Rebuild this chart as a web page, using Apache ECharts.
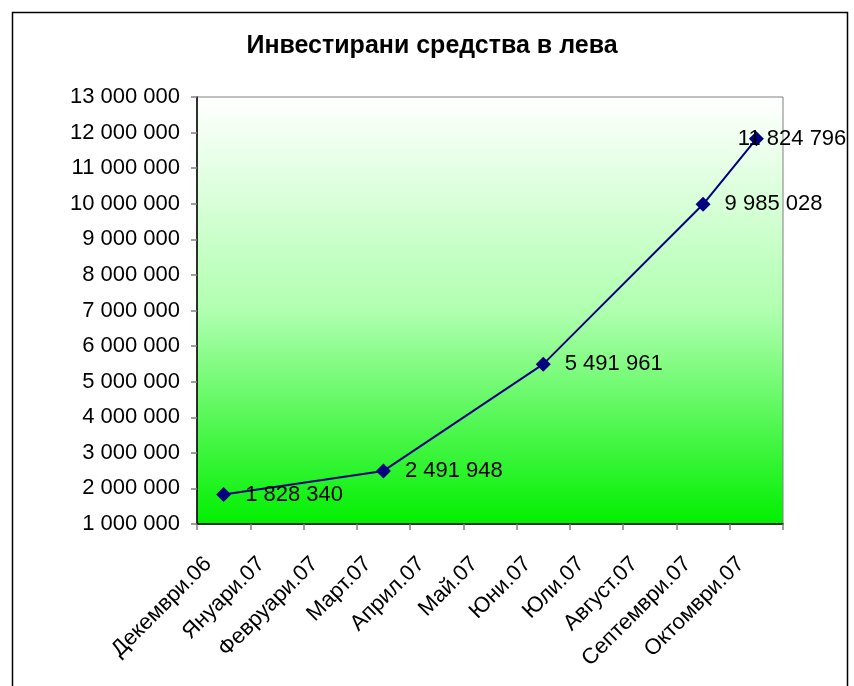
<!DOCTYPE html>
<html>
<head>
<meta charset="utf-8">
<script src="https://cdn.jsdelivr.net/npm/echarts@6/dist/echarts.min.js"></script>
<style>
html,body{margin:0;padding:0;background:#fff;}
#chart{width:854px;height:686px;}
</style>
</head>
<body>
<div id="chart"></div>
<script>
const titleText = 'Инвестирани средства в лева';
const categories = ['Декември.06','Януари.07','Февруари.07','Март.07','Април.07','Май.07','Юни.07','Юли.07','Август.07','Септември.07','Октомври.07'];
const values = [1828340, null, null, 2491948, null, null, 5491961, null, null, 9985028, 11824796];
const yMin = 1000000, yMax = 13000000, yStep = 1000000;

function fmt(v){
  return String(Math.round(v)).replace(/\B(?=(\d{3})+(?!\d))/g, ' ');
}

const chart = echarts.init(document.getElementById('chart'));
const lastIdx = values.length - 1;
const seriesData = values.map((v, i) => {
  if (v === null) return null;
  const d = { value: v };
  if (i === lastIdx) d.label = { offset: [-40, 0] };
  return d;
});

chart.setOption({
  animation: false,
  backgroundColor: '#ffffff',
  textStyle: { fontFamily: 'Liberation Sans, Arial, sans-serif' },
  graphic: [{
    type: 'rect',
    shape: { x: 12.5, y: 12.5, width: 835, height: 700 },
    style: { fill: 'none', stroke: '#000', lineWidth: 1.5 },
    silent: true
  }],
  title: {
    text: titleText,
    left: 427, top: 29, textAlign: 'center',
    textStyle: { fontSize: 25, fontWeight: 'bold', color: '#000', fontFamily: 'Liberation Sans, Arial, sans-serif' }
  },
  grid: {
    left: 197, right: 71, top: 97, bottom: 162,
    show: true,
    borderColor: '#808080', borderWidth: 1,
    backgroundColor: {
      type: 'linear', x: 0, y: 0, x2: 0, y2: 1,
      colorStops: [
        { offset: 0, color: '#ffffff' },
        { offset: 0.5, color: '#b0ffb0' },
        { offset: 1, color: '#00f000' }
      ]
    }
  },
  xAxis: {
    type: 'category',
    data: categories,
    boundaryGap: true,
    axisLine: { lineStyle: { color: '#000', width: 1.5 } },
    axisTick: { show: true, length: 6, lineStyle: { color: '#808080', width: 1.5 } },
    axisLabel: { interval: 0, rotate: 45, fontSize: 22, color: '#000', margin: 21, padding: [0, 22, 0, 0] },
    splitLine: { show: false }
  },
  yAxis: {
    type: 'value',
    min: yMin, max: yMax, interval: yStep,
    axisLine: { show: true, lineStyle: { color: '#000', width: 1.5 } },
    axisTick: { show: true, length: 6, lineStyle: { color: '#808080', width: 1.5 } },
    axisLabel: { fontSize: 22, color: '#000', margin: 17, formatter: fmt },
    splitLine: { show: false }
  },
  series: [{
    type: 'line',
    data: seriesData,
    connectNulls: true,
    symbol: 'diamond',
    symbolSize: 15,
    lineStyle: { color: '#000080', width: 2 },
    itemStyle: { color: '#000080' },
    label: {
      show: true, position: 'right', distance: 14,
      fontSize: 22, color: '#000',
      formatter: p => fmt(p.value)
    }
  }]
});
</script>
</body>
</html>
